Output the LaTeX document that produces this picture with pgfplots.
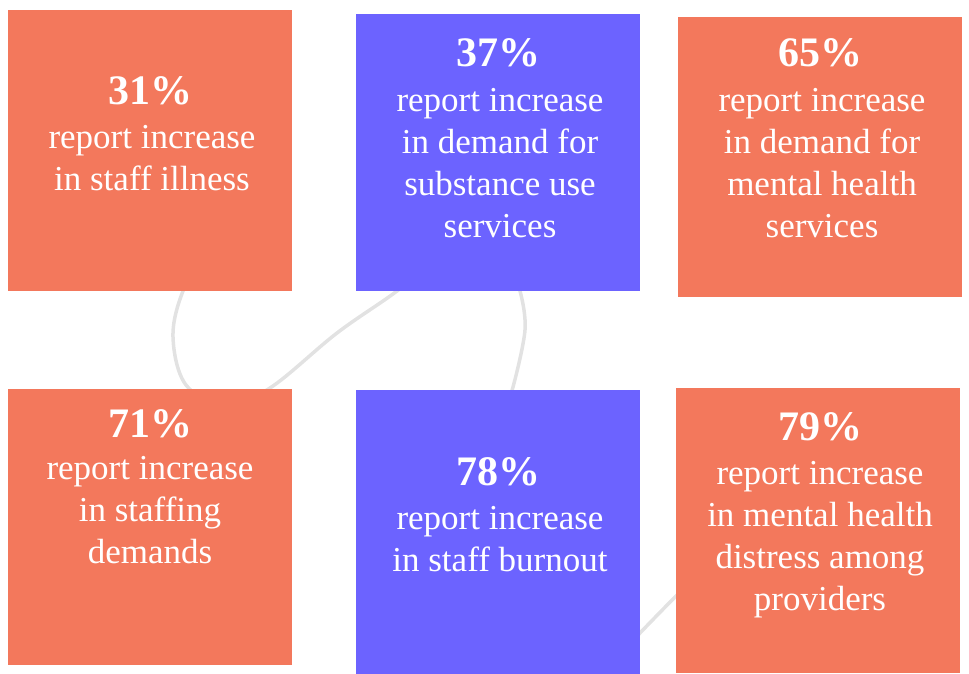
\documentclass[border=0pt]{standalone}
\usepackage{fontspec}
\setmainfont{Liberation Serif}
\usepackage{pgfplots}
\pgfplotsset{compat=1.18}
\definecolor{coral}{RGB}{243,120,92}
\definecolor{violet}{RGB}{108,99,255}
\definecolor{swirl}{RGB}{226,226,226}
\newcommand{\body}{\fontsize{35}{42}\selectfont}
% multi-line nodes: anchor=base sits on the last line's baseline
\tikzset{
  figlabel/.style={text=white, anchor=base, font=\fontsize{42}{44}\selectfont\bfseries},
  caption/.style={text=white, align=center, anchor=base, font=\body},
}
\begin{document}
\begin{tikzpicture}
\begin{axis}[
  width=969pt, height=674pt, scale only axis,
  xmin=0, xmax=969, ymin=0, ymax=674, y dir=reverse,
  xtick=\empty, ytick=\empty, axis line style={draw=none},
]
% background swirl
\addplot[swirl, line width=3.5pt, smooth, tension=0.6] coordinates {
  (205,255) (183,291) (173,337) (186,385) (225,405) (270,388) (337,333) (397,291) (440,255)};
\addplot[swirl, line width=3.5pt, smooth] coordinates {
  (505,255) (520,291) (525,330) (513,387) (500,420)};
\addplot[swirl, line width=3.5pt, smooth] coordinates {
  (610,665) (640,633) (675,597) (700,572)};

% tiles
\addplot[fill=coral, draw=none] coordinates {(8,10) (292,10) (292,291) (8,291)} -- cycle;
\addplot[fill=violet, draw=none] coordinates {(356,14) (640,14) (640,291) (356,291)} -- cycle;
\addplot[fill=coral, draw=none] coordinates {(678,17) (962,17) (962,297) (678,297)} -- cycle;
\addplot[fill=coral, draw=none] coordinates {(8,389) (292,389) (292,665) (8,665)} -- cycle;
\addplot[fill=violet, draw=none] coordinates {(356,390) (640,390) (640,674) (356,674)} -- cycle;
\addplot[fill=coral, draw=none] coordinates {(676,388) (960,388) (960,673) (676,673)} -- cycle;

% figures
\node[figlabel] at (axis cs:150,105) {31\%};
\node[figlabel] at (axis cs:498,67) {37\%};
\node[figlabel] at (axis cs:820,67) {65\%};
\node[figlabel] at (axis cs:150,437) {71\%};
\node[figlabel] at (axis cs:498,485) {78\%};
\node[figlabel] at (axis cs:820,440) {79\%};

% captions
\node[caption] at (axis cs:152,190) {report increase\\in staff illness};
\node[caption] at (axis cs:500,237) {report increase\\in demand for\\substance use\\services};
\node[caption] at (axis cs:822,237) {report increase\\in demand for\\mental health\\services};
\node[caption] at (axis cs:150,563) {report increase\\in staffing\\demands};
\node[caption] at (axis cs:500,571) {report increase\\in staff burnout};
\node[caption] at (axis cs:820,610) {report increase\\in mental health\\distress among\\providers};
\end{axis}
\end{tikzpicture}
\end{document}
